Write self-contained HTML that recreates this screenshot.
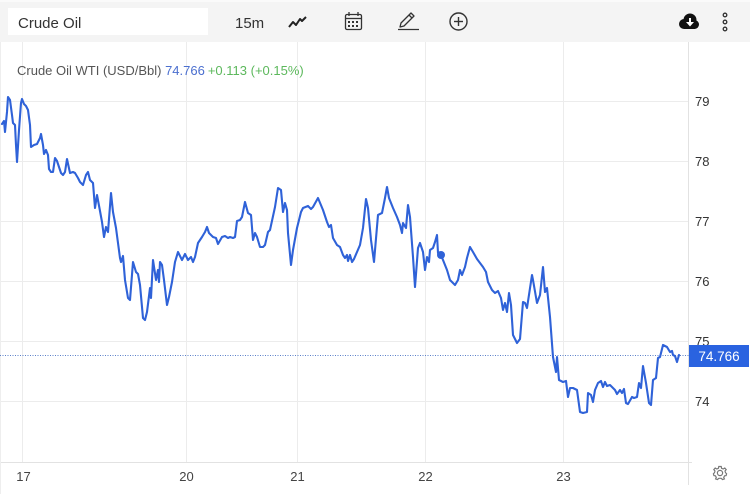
<!DOCTYPE html>
<html><head><meta charset="utf-8"><style>
html,body{margin:0;padding:0;background:#fff;}
body{width:750px;height:494px;overflow:hidden;font-family:"Liberation Sans",Arial,sans-serif;}
</style></head><body>
<svg width="750" height="494" viewBox="0 0 750 494" xmlns="http://www.w3.org/2000/svg" font-family="Liberation Sans, Arial, sans-serif">
<rect x="0" y="0" width="750" height="494" fill="#fff"/>
<!-- toolbar -->
<rect x="0" y="0" width="750" height="42" fill="#f4f4f4"/>
<rect x="0" y="0" width="750" height="2" fill="#fafafa"/>
<rect x="8" y="8" width="200" height="27" fill="#fff"/>
<text x="18" y="28" font-size="15" fill="#333">Crude Oil</text>
<text x="235" y="28" font-size="15" fill="#333">15m</text>
<!-- line chart icon -->
<polyline points="289,27 293,22 296,25 300,19 302,21 306,17" fill="none" stroke="#222" stroke-width="2" stroke-linejoin="round"/>
<!-- calendar -->
<g fill="none" stroke="#333" stroke-width="1.3">
<rect x="345.5" y="14.5" width="16" height="15" rx="1.5"/>
<line x1="345.5" y1="18.5" x2="361.5" y2="18.5"/>
<line x1="349" y1="12" x2="349" y2="16"/><line x1="358" y1="12" x2="358" y2="16"/>
</g>
<g fill="#333"><rect x="348" y="21" width="2" height="2"/><rect x="352" y="21" width="2" height="2"/><rect x="356" y="21" width="2" height="2"/><rect x="348" y="25" width="2" height="2"/><rect x="352" y="25" width="2" height="2"/><rect x="356" y="25" width="2" height="2"/></g>
<!-- pencil -->
<g fill="none" stroke="#333" stroke-width="1.3" stroke-linejoin="round">
<path d="M400,27 L401,23 L411,13 L414,16 L404,26 Z"/>
<line x1="409" y1="15" x2="412" y2="18"/>
<line x1="398" y1="29.5" x2="419" y2="29.5"/>
</g>
<!-- plus circle -->
<circle cx="458.5" cy="21.5" r="8.5" fill="none" stroke="#333" stroke-width="1.4"/>
<line x1="454" y1="21.5" x2="463" y2="21.5" stroke="#333" stroke-width="1.4"/>
<line x1="458.5" y1="17" x2="458.5" y2="26" stroke="#333" stroke-width="1.4"/>
<!-- cloud download -->
<g fill="#111">
<circle cx="684" cy="24" r="5"/><circle cx="690" cy="20" r="6.5"/><circle cx="694.5" cy="24.5" r="4.5"/>
<rect x="684" y="22" width="11" height="7"/>
</g>
<path d="M689,18 L691,18 L691,22 L694,22 L690,26.5 L686,22 L689,22 Z" fill="#fff"/>
<!-- dots -->
<g fill="none" stroke="#333" stroke-width="1.3">
<circle cx="725" cy="15" r="1.8"/><circle cx="725" cy="22" r="1.8"/><circle cx="725" cy="29" r="1.8"/>
</g>
<!-- grid -->
<g stroke="#ececec" stroke-width="1">
<line x1="22.5" y1="42" x2="22.5" y2="462"/>
<line x1="186.5" y1="42" x2="186.5" y2="462"/>
<line x1="297.5" y1="42" x2="297.5" y2="462"/>
<line x1="425.5" y1="42" x2="425.5" y2="462"/>
<line x1="563.5" y1="42" x2="563.5" y2="462"/>
<line x1="0" y1="101.5" x2="689" y2="101.5"/>
<line x1="0" y1="161.5" x2="689" y2="161.5"/>
<line x1="0" y1="221.5" x2="689" y2="221.5"/>
<line x1="0" y1="281.5" x2="689" y2="281.5"/>
<line x1="0" y1="341.5" x2="689" y2="341.5"/>
<line x1="0" y1="401.5" x2="689" y2="401.5"/>
</g>
<line x1="0" y1="462.5" x2="692" y2="462.5" stroke="#e2e2e2"/>
<line x1="688.5" y1="42" x2="688.5" y2="485" stroke="#e2e2e2"/>
<line x1="0.5" y1="42" x2="0.5" y2="494" stroke="#eeeeee"/>
<!-- title -->
<text x="17" y="75" font-size="13" fill="#555">Crude Oil WTI (USD/Bbl) <tspan fill="#4b6fcf">74.766</tspan><tspan dx="3" fill="#5cb85c">+0.113 (+0.15%)</tspan></text>
<!-- y labels -->
<g font-size="13" fill="#333">
<text x="695" y="106">79</text>
<text x="695" y="166">78</text>
<text x="695" y="226">77</text>
<text x="695" y="286">76</text>
<text x="695" y="346">75</text>
<text x="695" y="406">74</text>
</g>
<!-- x labels -->
<g font-size="13" fill="#444" text-anchor="middle">
<text x="23.5" y="481">17</text>
<text x="186.5" y="481">20</text>
<text x="297.5" y="481">21</text>
<text x="425.5" y="481">22</text>
<text x="563.5" y="481">23</text>
</g>
<!-- last price dotted line -->
<line x1="0" y1="355.5" x2="689" y2="355.5" stroke="#5a7fc8" stroke-width="1" stroke-dasharray="1,1.5"/>
<!-- series -->
<polyline fill="none" stroke="#2f62d8" stroke-width="2.1" stroke-linejoin="round" stroke-linecap="round" points="2,124 4,121 5,132 7,112 8,97 10,100 12,115 13,123 15,125 16,145 17,162 19,130 21,103 22,99 24,104 26,106 28,110 30,125 31,147 34,145 37,144 40,138 41,134 43,145 44,154 46,150 48,155 49,169 51,172 53,172 55,158 57,161 59,167 61,173 63,175 65,172 67,159 70,173 73,172 75,173 78,178 80,182 83,185 86,175 88,172 90,180 93,183 95,208 97,195 100,211 102,222 104,237 106,227 108,232 111,193 113,212 116,228 118,243 120,258 121,262 123,256 125,280 128,298 130,300 133,262 136,272 138,274 140,285 143,318 145,320 147,312 150,288 151,298 153,260 156,280 158,270 159,282 160,262 162,265 164,280 167,305 169,297 172,282 175,262 178,252 182,260 185,254 188,260 191,257 193,262 195,257 198,243 202,237 205,232 207,227 209,233 213,237 216,238 218,244 222,237 225,236 228,238 230,237 233,238 235,237 237,221 240,220 242,217 245,202 248,213 251,215 253,240 255,233 257,237 260,247 263,247 265,245 268,232 270,230 275,207 278,188 281,190 283,212 285,203 287,210 288,233 291,265 293,250 297,228 301,212 303,208 308,206 311,209 313,207 318,198 323,210 327,222 329,227 331,225 333,238 337,245 340,247 343,255 345,258 347,255 348,261 350,255 352,262 354,259 357,252 360,245 363,228 366,199 368,208 371,240 374,262 378,215 382,213 385,198 387,187 389,198 393,208 397,217 400,225 402,233 403,223 406,228 408,205 410,217 413,257 415,287 418,248 420,243 423,252 425,270 427,257 429,262 430,250 433,248 435,242 437,235 438,253 441,255 443,260 447,270 450,280 455,285 458,280 460,270 462,275 465,267 467,258 470,247 473,252 477,259 480,263 483,267 486,272 488,282 492,290 495,293 498,291 501,298 503,310 505,303 507,312 509,293 511,305 513,335 517,343 520,339 523,302 525,303 527,308 532,275 533,280 537,303 540,295 543,267 545,292 547,288 550,317 553,357 556,372 557,357 559,380 563,382 566,381 568,397 570,388 573,388 577,390 580,412 583,413 587,412 588,393 591,395 593,402 595,390 598,383 601,381 603,387 605,382 607,386 610,385 615,390 617,394 620,390 622,393 624,389 626,403 628,404 632,397 634,398 637,397 639,383 641,388 643,366 646,383 649,403 651,405 653,380 656,378 658,358 660,357 663,345 667,347 670,352 672,351 673,355 675,356 677,362 679,355"/>
<circle cx="441" cy="255" r="4" fill="#2f62d8"/>
<!-- price label -->
<rect x="689" y="345" width="60" height="22" fill="#2a63e0"/>
<text x="719" y="361" font-size="13.5" fill="#fff" text-anchor="middle">74.766</text>
<!-- gear -->
<g transform="translate(720,473)" fill="none" stroke="#777" stroke-width="1.2">
<circle r="2.6"/>
<path d="M-1.2,-6.5 L1.2,-6.5 L1.6,-4.7 L3.2,-4 L4.8,-5 L6.2,-3.4 L5,-2 L5.5,-0.4 L6.6,0.8 L6.1,2.6 L4.6,2.8 L3.7,4.4 L4.4,5.9 L2.5,6.6 L1.2,5.3 L-1.2,5.3 L-2.5,6.6 L-4.4,5.9 L-3.7,4.4 L-4.6,2.8 L-6.1,2.6 L-6.6,0.8 L-5.5,-0.4 L-5,-2 L-6.2,-3.4 L-4.8,-5 L-3.2,-4 L-1.6,-4.7 Z"/>
</g>
</svg>
</body></html>
